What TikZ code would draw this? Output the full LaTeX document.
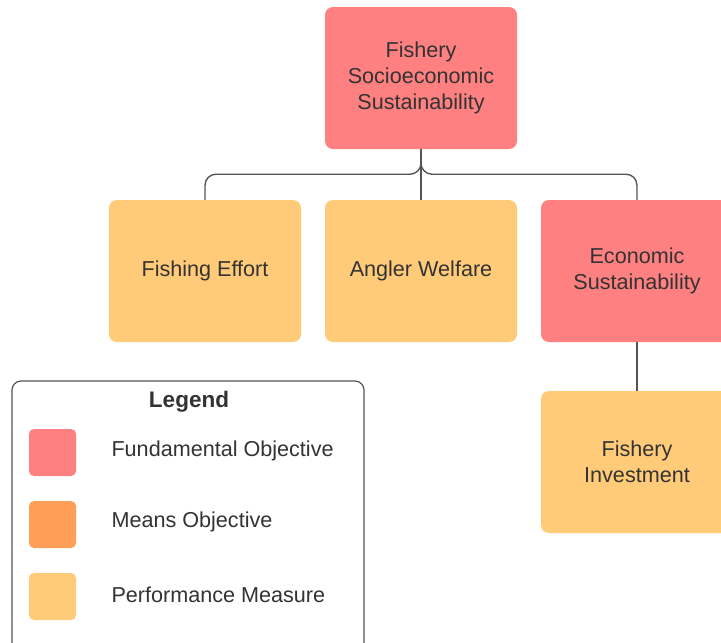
\documentclass[tikz,border=0pt]{standalone}
\usepackage{fontspec}
\setmainfont{Liberation Sans}
\usetikzlibrary{calc}
\definecolor{fundred}{HTML}{FF8080}
\definecolor{meansorange}{HTML}{FF9E57}
\definecolor{perfyellow}{HTML}{FFCB79}
\definecolor{txtgray}{HTML}{333333}
\definecolor{linegray}{HTML}{555555}
\tikzset{
	objbox/.style={rectangle, rounded corners=8pt, minimum width=192pt, minimum height=142pt,
		inner sep=0pt, align=center, text=txtgray, font=\fontsize{21.6}{26}\selectfont},
	fundobj/.style={objbox, fill=fundred},
	perfmeas/.style={objbox, fill=perfyellow},
	swatch/.style={rectangle, rounded corners=5pt, minimum width=47pt, minimum height=47pt, inner sep=0pt},
	legtext/.style={anchor=west, text=txtgray, font=\fontsize{21.6}{26}\selectfont},
	conn/.style={draw=linegray, line width=1.4pt}
}
\begin{document}
\begin{tikzpicture}[x=1pt, y=-1pt]
			%%%%% START %%%%%
			\useasboundingbox (0, 0) rectangle (721, 643);
			\clip (0, 0) rectangle (721, 643);
			
			\node[fundobj] (socio) at (421, 78) {Fishery\\Socioeconomic\\Sustainability};
			
			\node[perfmeas] (effort) at (205, 271) {Fishing Effort};
			\node[perfmeas] (welfare) at (421, 271) {Angler Welfare};
			\node[fundobj] (econ) at (637, 271) {Economic\\Sustainability};
			\node[perfmeas] (invest) at (637, 462) {Fishery\\Investment};
			
			\draw[conn, rounded corners=11pt] (socio.south) -- ++(0, 25) -| (effort.north);
			\draw[conn, rounded corners=11pt] (socio.south) -- ++(0, 25) -| (econ.north);
			\draw[conn] (socio.south) -- (welfare.north);
			\draw[conn] (econ.south) -- (invest.north);
			
			% legend
			\draw[draw=linegray, line width=1.2pt, fill=white, rounded corners=9pt] (12, 381) rectangle (364, 660);
			\node[text=txtgray, font=\fontsize{22.5}{26}\selectfont\bfseries] (legtitle) at (189, 402) {Legend};
			
			\node[swatch, fill=fundred] (swfund) at (52.5, 452.5) {};
			\node[swatch, fill=meansorange] (swmeans) at (52.5, 524.5) {};
			\node[swatch, fill=perfyellow] (swperf) at (52.5, 596.5) {};
			
			\node[legtext] (lfund) at (108, 451) {Fundamental Objective};
			\node[legtext] (lmeans) at (108, 522) {Means Objective};
			\node[legtext] (lperf) at (108, 595) {Performance Measure};
			%%%%% END %%%%%
\end{tikzpicture}
\end{document}
